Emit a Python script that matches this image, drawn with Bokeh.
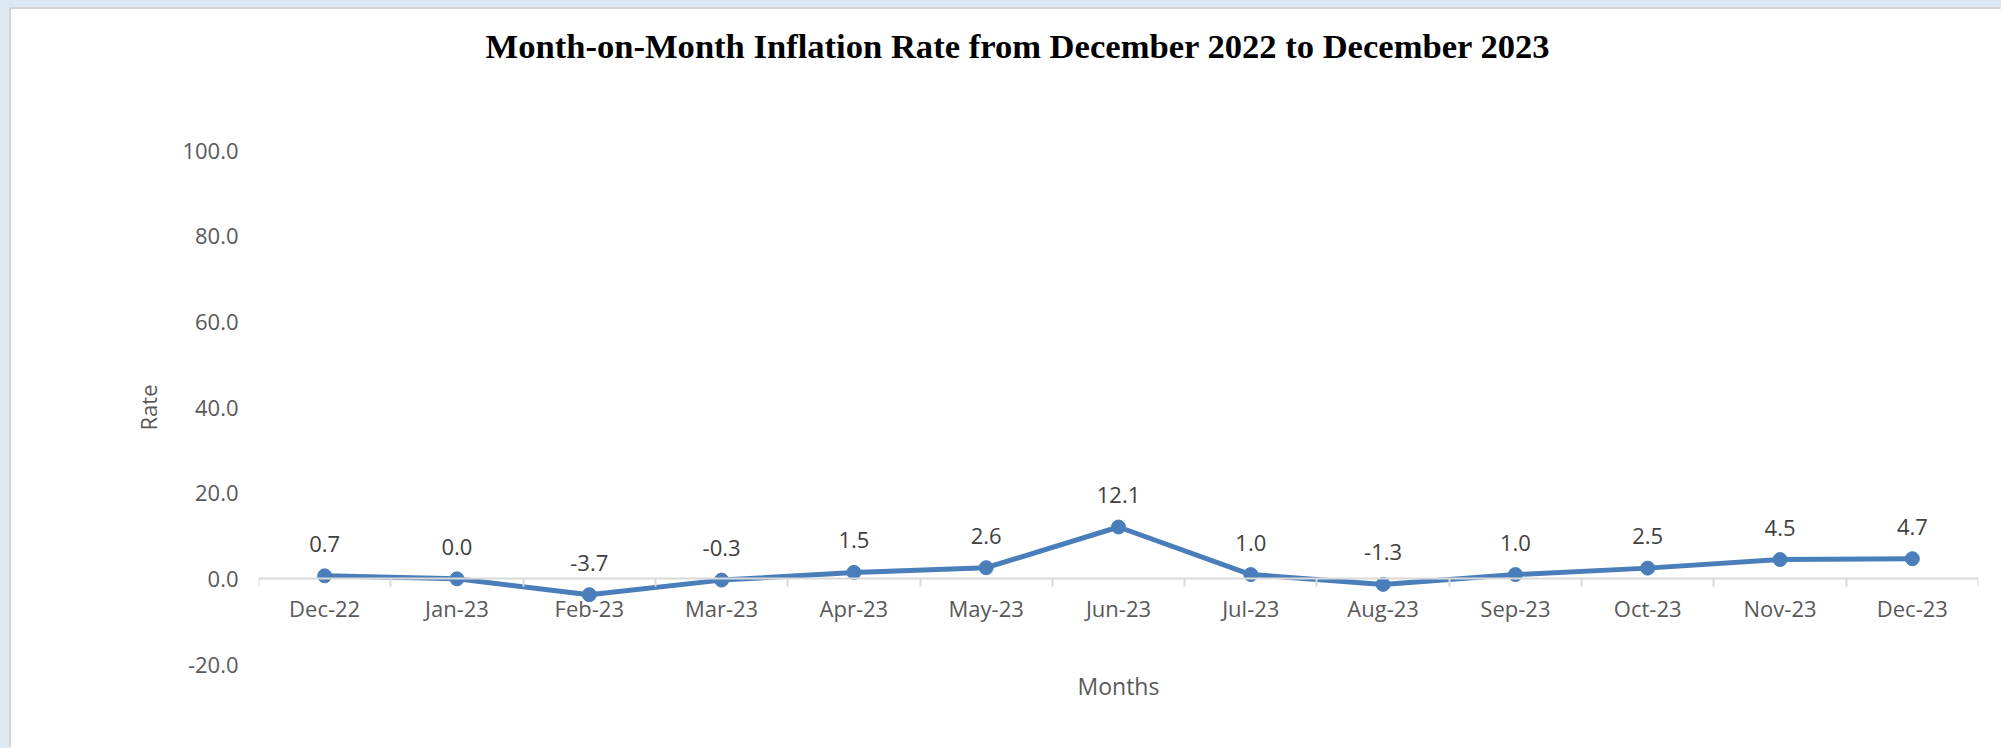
from bokeh.plotting import figure
from bokeh.models import (ColumnDataSource, Range1d, FixedTicker, LinearAxis, Title,
                          CustomJSTickFormatter, PrintfTickFormatter, LabelSet)
from bokeh.core.properties import value
from bokeh.embed import file_html
from bokeh.resources import INLINE
import numpy as np

months = ["Dec-22", "Jan-23", "Feb-23", "Mar-23", "Apr-23", "May-23", "Jun-23",
          "Jul-23", "Aug-23", "Sep-23", "Oct-23", "Nov-23", "Dec-23"]
rates = [0.7, 0.0, -3.7, -0.3, 1.5, 2.6, 12.1, 1.0, -1.3, 1.0, 2.5, 4.5, 4.7]
y_ticks = [-20, 0, 20, 40, 60, 80, 100]
title_text = "Month-on-Month Inflation Rate  from December 2022 to December 2023"
x_title = "Months"
y_title = "Rate"

n = len(months)
xc = np.arange(n) + 0.5
src = ColumnDataSource(dict(x=xc, y=rates, lbl=[f"{v:.1f}" for v in rates]))

BLUE = "#4a7ebb"
FONT = "Open Sans"
EDGE = "#dde8f5"
EDGE_LINE = "#d4d4d4"

FW, FH = 1991, 739
p = figure(width=FW, height=FH, output_backend="svg", toolbar_location=None,
           x_range=Range1d(0, n), y_range=Range1d(y_ticks[0], y_ticks[-1]),
           x_axis_type=None, y_axis_type=None, title=None,
           min_border_left=247, min_border_right=FW - 1967, min_border_top=141,
           min_border_bottom=FH - 655)
p.outline_line_color = None
p.background_fill_color = "white"
p.border_fill_color = "white"
p.xgrid.visible = False
p.ygrid.visible = False
# chart sits inside a light-blue window frame (drawn as css shadows around the figure)
p.styles = {"position": "relative", "left": "11px", "top": "9px",
            "box-shadow": f"-2px -2px 0 0 {EDGE_LINE}, -6px -5px 0 5px {EDGE}"}

# y axis
yax = LinearAxis(ticker=FixedTicker(ticks=y_ticks),
                 formatter=PrintfTickFormatter(format="%.1f"),
                 axis_label=y_title)
yax.axis_line_color = None
yax.major_tick_line_color = None
yax.minor_tick_line_color = None
yax.major_tick_out = 0
yax.major_tick_in = 0
yax.major_label_text_font = FONT
yax.major_label_text_font_size = "22px"
yax.major_label_text_color = "#595959"
yax.major_label_standoff = 20
yax.axis_label_text_font = FONT
yax.axis_label_text_font_size = "22px"
yax.axis_label_text_font_style = "normal"
yax.axis_label_text_color = "#595959"
yax.axis_label_standoff = 16
p.add_layout(yax, "left")

# x axis title (plain axis carrying only the label)
xlab = LinearAxis(ticker=FixedTicker(ticks=[]), axis_label=x_title)
xlab.axis_line_color = None
xlab.major_tick_line_color = None
xlab.minor_tick_line_color = None
xlab.major_tick_out = 0
xlab.major_tick_in = 0
xlab.minor_tick_out = 0
xlab.major_label_standoff = 0
xlab.axis_label_standoff = 5
xlab.axis_label_text_font = FONT
xlab.axis_label_text_font_size = "23px"
xlab.axis_label_text_font_style = "normal"
xlab.axis_label_text_color = "#595959"
p.add_layout(xlab, "below")

# x axis crossing at zero
xax = LinearAxis(ticker=FixedTicker(ticks=list(xc), minor_ticks=list(range(n + 1))),
                 formatter=CustomJSTickFormatter(args=dict(labels=months),
                                                 code="return labels[Math.round(tick - 0.5)] || '';"),
                 fixed_location=0)
xax.axis_line_color = "#d9d9d9"
xax.axis_line_width = 2
xax.major_tick_line_color = None
xax.major_tick_out = 0
xax.major_tick_in = 0
xax.minor_tick_line_color = "#d9d9d9"
xax.minor_tick_line_width = 2
xax.minor_tick_out = 8
xax.minor_tick_in = 0
xax.major_label_text_font = FONT
xax.major_label_text_font_size = "22px"
xax.major_label_text_color = "#595959"
xax.major_label_standoff = 6
p.add_layout(xax, "below")

# spacing between title and plot area: axis with one invisible (white) tick, no label text
gap = LinearAxis(ticker=FixedTicker(ticks=[n / 2]),
                 formatter=CustomJSTickFormatter(code="return '';"))
gap.axis_line_color = None
gap.major_tick_line_color = "white"
gap.major_tick_line_width = 0.5
gap.minor_tick_line_color = None
gap.major_tick_out = 85
gap.major_tick_in = 0
gap.minor_tick_out = 0
gap.major_label_standoff = 0
p.add_layout(gap, "above")

p.add_layout(Title(text=title_text, align="left", offset=227, vertical_align="middle",
                   standoff=0, text_font="Liberation Serif", text_font_style="bold",
                   text_font_size="34.6px", text_color="black"), "above")

p.line(x="x", y="y", source=src, line_color=BLUE, line_width=5)
p.scatter(x="x", y="y", source=src, size=14, fill_color=BLUE, line_color=BLUE)

labels = LabelSet(x="x", y="y", text="lbl", source=src, y_offset=32,
                  text_align="center", text_baseline="middle",
                  text_font=value(FONT), text_font_size=value("22px"),
                  text_color="#404040")
p.add_layout(labels)

open("out.html", "w").write(file_html(p, INLINE))
